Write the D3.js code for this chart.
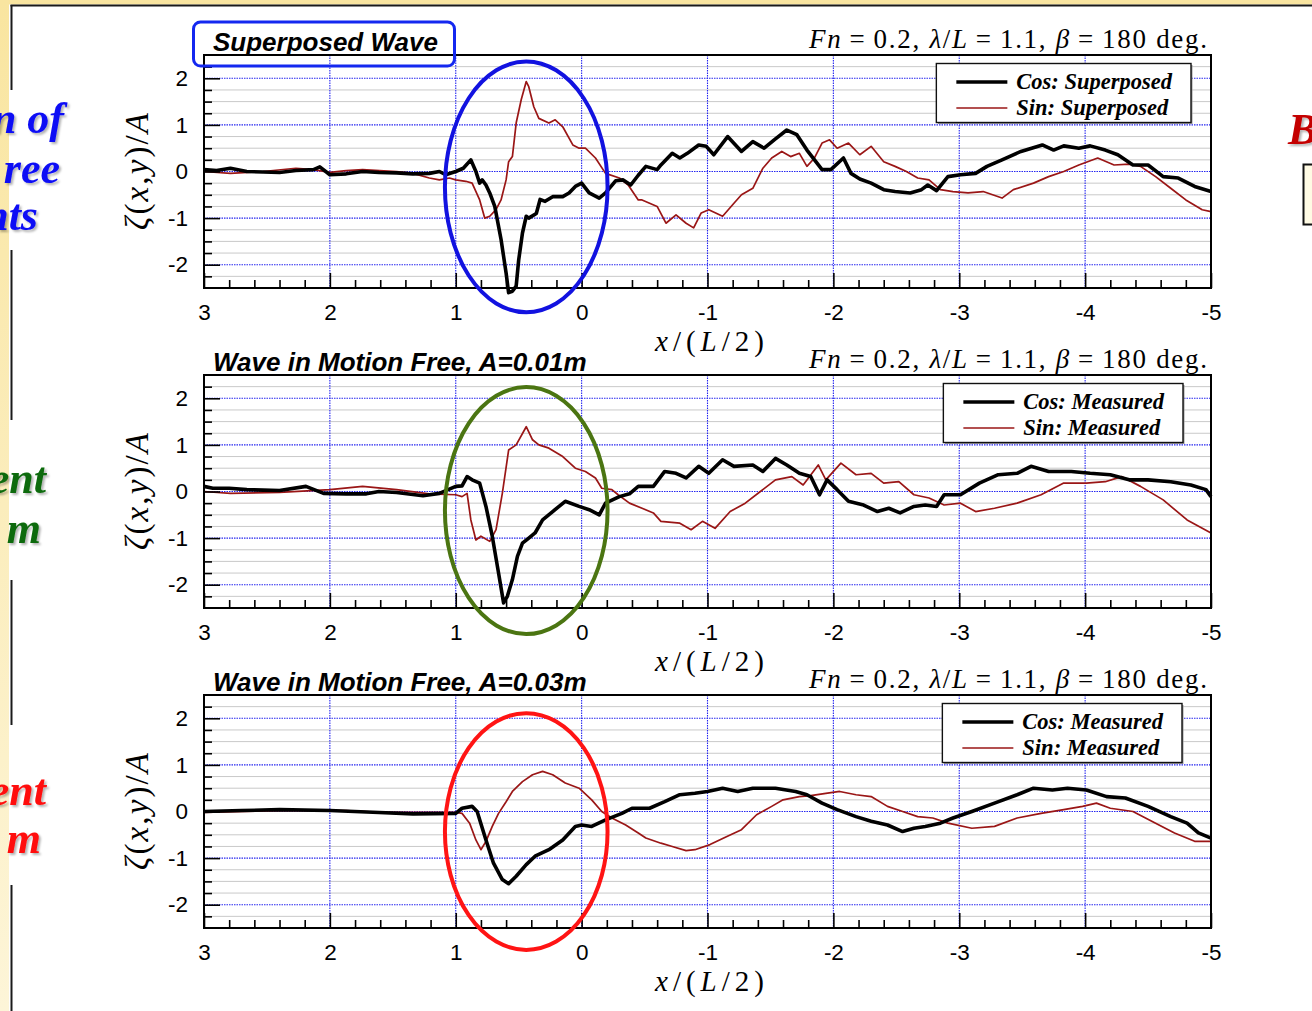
<!DOCTYPE html>
<html>
<head>
<meta charset="utf-8">
<title>Wave pattern: superposed vs. measured</title>
<script src="https://cdn.jsdelivr.net/npm/d3@7/dist/d3.min.js"></script>
<style>
  html, body { margin: 0; padding: 0; background: #ffffff; }
  svg { display: block; }
</style>
</head>
<body>
<svg id="fig" width="1312" height="1011"></svg>
<script>
// ---------------------------------------------------------------------
// Data: wave elevation ζ(x,y)/A along x/(L/2), cosine and sine parts
// ---------------------------------------------------------------------
const xTickValues = [3, 2, 1, 0, -1, -2, -3, -4, -5];
const yTickValues = [-2, -1, 0, 1, 2];

const panelTitles = ["Superposed Wave", "Wave in Motion Free, A=0.01m", "Wave in Motion Free, A=0.03m"];
const cosLegend = ["Cos: Superposed", "Cos: Measured", "Cos: Measured"];
const sinLegend = ["Sin: Superposed", "Sin: Measured", "Sin: Measured"];

const superposedCos = [
  [3.00,0.04],[2.90,0.02],[2.79,0.07],[2.66,0.00],[2.53,-0.01],[2.40,-0.02],[2.27,0.02],[2.13,0.04],
  [2.08,0.10],[2.00,-0.07],[1.87,-0.05],[1.74,0.00],[1.61,-0.02],[1.47,-0.03],[1.34,-0.05],[1.21,-0.04],
  [1.13,0.00],[1.08,-0.07],[1.00,0.00],[0.94,0.07],[0.88,0.25],[0.84,0.00],[0.81,-0.25],[0.79,-0.18],
  [0.76,-0.29],[0.73,-0.46],[0.69,-0.75],[0.64,-1.46],[0.60,-2.18],[0.58,-2.60],[0.55,-2.57],[0.52,-2.46],
  [0.50,-1.90],[0.47,-1.32],[0.44,-0.96],[0.42,-1.00],[0.36,-0.90],[0.33,-0.60],[0.29,-0.64],[0.23,-0.54],
  [0.15,-0.54],[0.10,-0.46],[0.05,-0.32],[0.00,-0.25],[-0.06,-0.46],[-0.14,-0.57],[-0.19,-0.46],[-0.27,-0.20],
  [-0.33,-0.18],[-0.39,-0.29],[-0.45,-0.08],[-0.51,0.11],[-0.60,0.04],[-0.63,0.14],[-0.72,0.39],[-0.78,0.29],
  [-0.84,0.39],[-0.93,0.57],[-0.99,0.54],[-1.05,0.36],[-1.16,0.75],[-1.27,0.43],[-1.36,0.64],[-1.45,0.50],
  [-1.53,0.68],[-1.63,0.89],[-1.71,0.79],[-1.79,0.46],[-1.85,0.25],[-1.91,0.04],[-1.98,0.04],[-2.08,0.29],
  [-2.14,-0.04],[-2.21,-0.16],[-2.30,-0.25],[-2.40,-0.39],[-2.49,-0.43],[-2.61,-0.46],[-2.70,-0.39],[-2.75,-0.29],
  [-2.82,-0.41],[-2.91,-0.11],[-3.01,-0.07],[-3.13,-0.04],[-3.22,0.11],[-3.34,0.25],[-3.49,0.43],[-3.66,0.57],
  [-3.75,0.46],[-3.83,0.55],[-3.95,0.50],[-4.04,0.55],[-4.16,0.46],[-4.26,0.36],[-4.38,0.14],[-4.50,0.14],
  [-4.62,-0.11],[-4.74,-0.14],[-4.87,-0.32],[-5.00,-0.43]
];

const superposedSin = [
  [3.00,0.00],[2.79,-0.04],[2.53,0.00],[2.27,0.07],[2.13,0.04],[2.00,-0.02],[1.87,0.02],[1.74,0.04],
  [1.47,0.00],[1.34,-0.04],[1.21,-0.14],[1.13,-0.18],[1.05,-0.14],[1.00,-0.18],[0.92,-0.21],[0.87,-0.25],
  [0.81,-0.61],[0.77,-1.00],[0.73,-0.96],[0.68,-0.82],[0.64,-0.61],[0.60,-0.18],[0.58,0.21],[0.55,0.32],
  [0.52,1.04],[0.48,1.54],[0.44,1.93],[0.42,1.82],[0.38,1.39],[0.34,1.14],[0.26,1.04],[0.21,1.11],
  [0.15,0.96],[0.07,0.57],[0.02,0.50],[-0.03,0.50],[-0.11,0.29],[-0.19,-0.04],[-0.30,-0.14],[-0.37,-0.29],
  [-0.45,-0.61],[-0.48,-0.61],[-0.60,-0.75],[-0.67,-1.11],[-0.75,-0.93],[-0.83,-1.11],[-0.89,-1.21],[-0.95,-0.89],
  [-1.01,-0.82],[-1.12,-0.96],[-1.21,-0.68],[-1.27,-0.50],[-1.36,-0.36],[-1.44,0.07],[-1.51,0.29],[-1.59,0.43],
  [-1.66,0.32],[-1.73,0.39],[-1.79,0.11],[-1.85,0.29],[-1.91,0.61],[-1.97,0.68],[-2.03,0.50],[-2.12,0.61],
  [-2.21,0.36],[-2.30,0.54],[-2.40,0.21],[-2.49,0.11],[-2.58,0.00],[-2.67,-0.14],[-2.76,-0.18],[-2.85,-0.39],
  [-2.95,-0.43],[-3.07,-0.46],[-3.19,-0.43],[-3.34,-0.57],[-3.43,-0.39],[-3.59,-0.25],[-3.71,-0.11],[-3.83,0.00],
  [-3.95,0.14],[-4.10,0.29],[-4.23,0.14],[-4.35,0.16],[-4.44,0.11],[-4.56,-0.11],[-4.68,-0.36],[-4.80,-0.61],
  [-4.93,-0.82],[-5.00,-0.86]
];

const measured01Cos = [
  [3.00,0.11],[2.93,0.07],[2.80,0.07],[2.66,0.04],[2.53,0.03],[2.40,0.02],[2.19,0.11],[2.05,-0.04],
  [1.87,-0.05],[1.71,-0.05],[1.61,0.00],[1.47,-0.02],[1.26,-0.09],[1.13,-0.04],[1.00,0.11],[0.95,0.12],
  [0.91,0.32],[0.87,0.25],[0.81,0.18],[0.76,-0.32],[0.71,-0.96],[0.66,-1.75],[0.62,-2.39],[0.59,-2.25],
  [0.55,-1.89],[0.51,-1.39],[0.47,-1.11],[0.42,-1.00],[0.37,-0.89],[0.31,-0.61],[0.23,-0.43],[0.13,-0.21],
  [0.02,-0.32],[-0.06,-0.39],[-0.14,-0.50],[-0.19,-0.25],[-0.30,-0.11],[-0.38,-0.05],[-0.45,0.11],[-0.57,0.11],
  [-0.66,0.43],[-0.75,0.39],[-0.83,0.29],[-0.93,0.54],[-1.01,0.39],[-1.12,0.68],[-1.21,0.54],[-1.36,0.57],
  [-1.44,0.43],[-1.54,0.71],[-1.63,0.57],[-1.73,0.39],[-1.82,0.32],[-1.89,-0.07],[-1.95,0.25],[-2.03,0.04],
  [-2.12,-0.21],[-2.24,-0.29],[-2.35,-0.43],[-2.44,-0.36],[-2.53,-0.46],[-2.64,-0.32],[-2.73,-0.29],[-2.82,-0.32],
  [-2.88,-0.07],[-3.01,-0.07],[-3.16,0.18],[-3.31,0.36],[-3.46,0.39],[-3.57,0.54],[-3.71,0.43],[-3.89,0.43],
  [-4.04,0.39],[-4.20,0.36],[-4.35,0.25],[-4.50,0.25],[-4.68,0.21],[-4.84,0.14],[-4.96,0.04],[-5.00,-0.11]
];

const measured01Sin = [
  [3.00,0.00],[2.79,-0.04],[2.40,-0.02],[2.00,0.04],[1.74,0.11],[1.47,0.04],[1.21,-0.05],[1.00,-0.07],
  [0.95,-0.11],[0.91,-0.04],[0.88,-0.61],[0.84,-1.04],[0.80,-0.96],[0.73,-1.07],[0.68,-0.82],[0.63,-0.04],
  [0.58,0.89],[0.52,1.00],[0.44,1.39],[0.39,1.11],[0.34,1.00],[0.26,0.93],[0.15,0.75],[0.05,0.50],
  [-0.03,0.43],[-0.11,0.29],[-0.16,0.07],[-0.24,0.04],[-0.29,-0.07],[-0.38,-0.25],[-0.48,-0.36],[-0.57,-0.46],
  [-0.63,-0.64],[-0.78,-0.68],[-0.87,-0.82],[-0.96,-0.64],[-1.06,-0.79],[-1.18,-0.43],[-1.30,-0.25],[-1.42,0.00],
  [-1.54,0.25],[-1.67,0.32],[-1.76,0.14],[-1.88,0.57],[-1.94,0.25],[-2.06,0.61],[-2.18,0.36],[-2.30,0.39],
  [-2.40,0.18],[-2.52,0.21],[-2.64,-0.07],[-2.76,-0.14],[-2.88,-0.29],[-3.01,-0.25],[-3.13,-0.43],[-3.28,-0.36],
  [-3.46,-0.25],[-3.65,-0.07],[-3.83,0.18],[-4.01,0.18],[-4.16,0.21],[-4.29,0.32],[-4.44,0.11],[-4.62,-0.18],
  [-4.81,-0.61],[-5.00,-0.89]
];

const measured03Cos = [
  [3.00,0.00],[2.70,0.02],[2.40,0.04],[2.00,0.02],[1.61,-0.02],[1.34,-0.05],[1.00,-0.04],[0.95,0.07],
  [0.87,0.11],[0.83,0.00],[0.76,-0.61],[0.70,-1.11],[0.63,-1.46],[0.58,-1.55],[0.52,-1.39],[0.44,-1.14],
  [0.37,-0.96],[0.26,-0.82],[0.15,-0.61],[0.05,-0.32],[0.00,-0.29],[-0.08,-0.32],[-0.19,-0.18],[-0.32,-0.04],
  [-0.40,0.07],[-0.54,0.07],[-0.66,0.21],[-0.78,0.36],[-0.90,0.39],[-1.00,0.43],[-1.12,0.50],[-1.24,0.43],
  [-1.36,0.50],[-1.54,0.50],[-1.70,0.43],[-1.79,0.36],[-1.91,0.18],[-2.03,0.04],[-2.18,-0.11],[-2.30,-0.21],
  [-2.43,-0.29],[-2.55,-0.43],[-2.64,-0.36],[-2.73,-0.32],[-2.85,-0.25],[-2.95,-0.14],[-3.10,0.00],[-3.28,0.18],
  [-3.46,0.36],[-3.59,0.50],[-3.74,0.46],[-3.86,0.50],[-4.01,0.46],[-4.17,0.32],[-4.32,0.29],[-4.50,0.11],
  [-4.68,-0.11],[-4.81,-0.25],[-4.90,-0.46],[-5.00,-0.57]
];

const measured03Sin = [
  [3.00,-0.02],[2.40,0.02],[1.87,0.02],[1.61,-0.02],[1.00,-0.02],[0.95,-0.04],[0.89,-0.25],[0.84,-0.61],
  [0.80,-0.82],[0.76,-0.64],[0.71,-0.32],[0.66,-0.04],[0.60,0.21],[0.55,0.43],[0.47,0.64],[0.39,0.79],
  [0.31,0.86],[0.23,0.79],[0.13,0.61],[0.02,0.50],[-0.08,0.25],[-0.16,0.00],[-0.24,-0.14],[-0.35,-0.29],
  [-0.45,-0.46],[-0.51,-0.57],[-0.63,-0.68],[-0.72,-0.75],[-0.83,-0.84],[-0.90,-0.82],[-1.02,-0.71],[-1.15,-0.54],
  [-1.27,-0.39],[-1.39,-0.07],[-1.51,0.11],[-1.60,0.25],[-1.73,0.32],[-1.82,0.34],[-1.94,0.39],[-2.05,0.43],
  [-2.18,0.36],[-2.30,0.32],[-2.43,0.11],[-2.55,0.00],[-2.67,-0.11],[-2.79,-0.14],[-2.91,-0.25],[-3.10,-0.36],
  [-3.28,-0.32],[-3.46,-0.14],[-3.65,-0.04],[-3.83,0.04],[-3.98,0.11],[-4.09,0.18],[-4.20,0.07],[-4.38,0.00],
  [-4.56,-0.25],[-4.71,-0.46],[-4.87,-0.64],[-5.00,-0.64]
];

// ---------------------------------------------------------------------
// Layout and styling
// ---------------------------------------------------------------------
const panels = [
  { title: panelTitles[0], cos: superposedCos, sin: superposedSin, cosLabel: cosLegend[0], sinLabel: sinLegend[0],
    boxed: true, legendRight: 1191, ring: { color: "#1212e0", cy: -0.33, ry: 2.69 } },
  { title: panelTitles[1], cos: measured01Cos, sin: measured01Sin, cosLabel: cosLegend[1], sinLabel: sinLegend[1],
    boxed: false, legendRight: 1183, ring: { color: "#4b7512", cy: -0.41, ry: 2.65 } },
  { title: panelTitles[2], cos: measured03Cos, sin: measured03Sin, cosLabel: cosLegend[2], sinLabel: sinLegend[2],
    boxed: false, legendRight: 1182, ring: { color: "#ff1414", cy: -0.43, ry: 2.54 } }
];

const plotLeft = 204, plotRight = 1211, plotHeight = 233, firstTop = 55, panelStep = 320;
const sinColor = "#9a1616";
const serif = "'Liberation Serif', 'Times New Roman', serif";
const sans = "'Liberation Sans', Arial, sans-serif";

const svg = d3.select("#fig");
const defs = svg.append("defs");

const shadow = defs.append("filter").attr("id", "txtShadow")
  .attr("x", "-20%").attr("y", "-30%").attr("width", "150%").attr("height", "170%");
shadow.append("feDropShadow").attr("dx", 2).attr("dy", 2).attr("stdDeviation", 1.3)
  .attr("flood-color", "#000").attr("flood-opacity", 0.3);

const strip = defs.append("linearGradient").attr("id", "stripFill")
  .attr("x1", 0).attr("y1", 0).attr("x2", 0).attr("y2", 1);
strip.append("stop").attr("offset", "0%").attr("stop-color", "#f9e5a0");
strip.append("stop").attr("offset", "100%").attr("stop-color", "#fdf5d8");

// ---- slide frame ------------------------------------------------------
svg.append("rect").attr("width", 1312).attr("height", 1011).attr("fill", "#ffffff");
svg.append("rect").attr("x", 0).attr("y", 0).attr("width", 9).attr("height", 1011).attr("fill", "url(#stripFill)");
svg.append("rect").attr("x", 0).attr("y", 0).attr("width", 1312).attr("height", 4.5).attr("fill", "#f9e5a0");
svg.append("line").attr("x1", 10.5).attr("x2", 1312).attr("y1", 5.5).attr("y2", 5.5)
  .attr("stroke", "#1a1a1a").attr("stroke-width", 2);
[[5, 90], [250, 420], [580, 725], [885, 1011]].forEach(([a, b]) => {
  svg.append("line").attr("x1", 11.5).attr("x2", 11.5).attr("y1", a).attr("y2", b)
    .attr("stroke", "#1a1a1a").attr("stroke-width", 2);
});

// side captions of the slide (running past the page edge)
const sideText = svg.append("g").attr("font-family", serif).attr("font-weight", "bold")
  .attr("font-style", "italic").attr("font-size", 44).attr("text-anchor", "end")
  .attr("filter", "url(#txtShadow)");
[["n of", 64, 133, "#0a0af5"], ["ree", 60, 183, "#0a0af5"], ["nts", 38, 230, "#0a0af5"],
 ["ent", 46, 493, "#0b6a0b"], ["m", 41, 543, "#0b6a0b"],
 ["ent", 46, 805, "#ff0a0a"], ["m", 41, 853, "#ff0a0a"]].forEach(([t, xx, yy, c]) => {
  sideText.append("text").attr("x", xx).attr("y", yy).attr("fill", c).text(t);
});
svg.append("text").attr("x", 1288).attr("y", 144).attr("font-family", serif)
  .attr("font-weight", "bold").attr("font-style", "italic").attr("font-size", 44)
  .attr("fill", "#c40000").attr("filter", "url(#txtShadow)").text("B");
svg.append("rect").attr("x", 1303.5).attr("y", 164.5).attr("width", 20).attr("height", 60)
  .attr("fill", "#fffbe4").attr("stroke", "#111").attr("stroke-width", 2);

// ---- panels -------------------------------------------------------------
const x = d3.scaleLinear().domain([3, -5]).range([plotLeft, plotRight]);
const xMinor = d3.range(-24, 15).filter(k => k % 5 !== 0).map(k => +(k * 0.2).toFixed(2));
const yMinor = d3.range(-9, 10).filter(k => k % 4 !== 0).map(k => k * 0.25);

panels.forEach((p, i) => {
  const top = firstTop + i * panelStep;
  const bottom = top + plotHeight;
  const y = d3.scaleLinear().domain([-2.5, 2.5]).range([bottom, top]);
  const g = svg.append("g");

  // grid
  g.append("g").selectAll("line").data(yMinor).join("line")
    .attr("x1", plotLeft).attr("x2", plotRight)
    .attr("y1", d => y(d)).attr("y2", d => y(d))
    .attr("stroke", "#c9c9c9").attr("stroke-width", 1);
  g.append("g").selectAll("line").data(yTickValues).join("line")
    .attr("x1", plotLeft).attr("x2", plotRight)
    .attr("y1", d => y(d)).attr("y2", d => y(d))
    .attr("stroke", "#2626f0").attr("stroke-width", 1.1).attr("stroke-dasharray", "1.5,1");
  g.append("g").selectAll("line").data(xTickValues.slice(1, -1)).join("line")
    .attr("x1", d => x(d)).attr("x2", d => x(d))
    .attr("y1", top).attr("y2", bottom)
    .attr("stroke", "#2626f0").attr("stroke-width", 1.1).attr("stroke-dasharray", "1.5,1");

  // curves
  const line = d3.line().x(d => x(d[0])).y(d => y(d[1]));
  g.append("path").datum(p.sin).attr("d", line).attr("fill", "none")
    .attr("stroke", sinColor).attr("stroke-width", 1.7).attr("stroke-linejoin", "round");
  g.append("path").datum(p.cos).attr("d", line).attr("fill", "none")
    .attr("stroke", "#000").attr("stroke-width", 3.6).attr("stroke-linejoin", "round");

  // frame
  g.append("rect").attr("x", plotLeft).attr("y", top)
    .attr("width", plotRight - plotLeft).attr("height", plotHeight)
    .attr("fill", "none").attr("stroke", "#000").attr("stroke-width", 2);

  // axes (ticks point into the plot)
  const xMajor = d3.axisBottom(x).tickValues(xTickValues).tickSizeInner(-15).tickSizeOuter(0)
    .tickPadding(16).tickFormat(d => String(d));
  const xMin = d3.axisBottom(x).tickValues(xMinor).tickSizeInner(-8).tickSizeOuter(0).tickFormat("");
  const yMajor = d3.axisLeft(y).tickValues(yTickValues).tickSizeInner(-16).tickSizeOuter(0)
    .tickPadding(16).tickFormat(d => String(d));
  const yMin = d3.axisLeft(y).tickValues(yMinor).tickSizeInner(-8).tickSizeOuter(0).tickFormat("");

  [[xMin, `translate(0,${bottom})`], [xMajor, `translate(0,${bottom})`],
   [yMin, `translate(${plotLeft},0)`], [yMajor, `translate(${plotLeft},0)`]].forEach(([ax, tr]) => {
    const a = g.append("g").attr("transform", tr).call(ax);
    a.select(".domain").remove();
    a.selectAll("line").attr("stroke", "#000").attr("stroke-width", 1.6);
    a.selectAll("text").attr("font-family", sans).attr("font-size", 22.5).attr("fill", "#000");
  });

  // axis titles
  const xl = g.append("text").attr("x", (plotLeft + plotRight) / 2 + 2).attr("y", bottom + 63)
    .attr("text-anchor", "middle").attr("font-family", serif).attr("font-size", 29)
    .attr("textLength", 109).attr("lengthAdjust", "spacing");
  xl.append("tspan").attr("font-style", "italic").text("x");
  xl.append("tspan").text("/(");
  xl.append("tspan").attr("font-style", "italic").text("L");
  xl.append("tspan").text("/2)");

  const yl = g.append("text").attr("transform", `translate(148,${y(0)}) rotate(-90)`)
    .attr("text-anchor", "middle").attr("font-family", serif).attr("font-size", 33)
    .attr("textLength", 117).attr("lengthAdjust", "spacing");
  yl.append("tspan").attr("font-style", "italic").text("ζ");
  yl.append("tspan").text("(");
  yl.append("tspan").attr("font-style", "italic").text("x");
  yl.append("tspan").text(",");
  yl.append("tspan").attr("font-style", "italic").text("y");
  yl.append("tspan").text(")/");
  yl.append("tspan").attr("font-style", "italic").text("A");

  // run condition
  const cond = g.append("text").attr("x", 1207).attr("y", top - 7).attr("text-anchor", "end")
    .attr("font-family", serif).attr("font-size", 27)
    .attr("textLength", 398).attr("lengthAdjust", "spacing");
  cond.append("tspan").attr("font-style", "italic").text("Fn");
  cond.append("tspan").text("\u2009=\u20090.2, ");
  cond.append("tspan").attr("font-style", "italic").text("λ");
  cond.append("tspan").text("/");
  cond.append("tspan").attr("font-style", "italic").text("L");
  cond.append("tspan").text("\u2009=\u20091.1, ");
  cond.append("tspan").attr("font-style", "italic").text("β");
  cond.append("tspan").text("\u2009=\u2009180 deg.");

  // panel title
  g.append("text").attr("x", 213).attr("y", top - 4.5)
    .attr("font-family", sans).attr("font-weight", "bold").attr("font-style", "italic")
    .attr("font-size", 26).attr("fill", "#000").text(p.title);
  if (p.boxed) {
    g.append("rect").attr("x", 193.5).attr("y", top - 33).attr("width", 261).attr("height", 44)
      .attr("rx", 7).attr("fill", "none").attr("stroke", "#1428f0").attr("stroke-width", 3);
  }

  // legend
  const lgTop = top + 8.5, lgH = 59;
  const lg = g.append("g");
  const rows = [[p.cosLabel, "#000", 3.6, 27], [p.sinLabel, sinColor, 1.7, 53]];
  const texts = rows.map(r => lg.append("text").attr("font-family", serif).attr("font-weight", "bold")
    .attr("font-style", "italic").attr("font-size", 22.5).attr("fill", "#000").text(r[0]));
  const tw = d3.max(texts, t => t.node().getComputedTextLength());
  const boxL = p.legendRight - (20 + 51 + 9 + tw + 19);
  lg.insert("rect", ":first-child").attr("x", boxL + 1.5).attr("y", lgTop + 1.5)
    .attr("width", p.legendRight - boxL).attr("height", lgH).attr("fill", "#9a9a9a");
  lg.insert("rect", "text").attr("x", boxL).attr("y", lgTop)
    .attr("width", p.legendRight - boxL).attr("height", lgH)
    .attr("fill", "#fff").attr("stroke", "#111").attr("stroke-width", 1.4);
  rows.forEach((r, k) => {
    lg.append("line").attr("x1", boxL + 20).attr("x2", boxL + 71)
      .attr("y1", top + r[3]).attr("y2", top + r[3])
      .attr("stroke", r[1]).attr("stroke-width", r[2]);
    texts[k].attr("x", boxL + 80).attr("y", top + r[3] + 7);
  });

  // highlighted region around the bow
  const c = 0.44, rx = 0.646;
  g.append("ellipse").attr("cx", x(c)).attr("cy", y(p.ring.cy))
    .attr("rx", x(c - rx) - x(c)).attr("ry", y(0) - y(p.ring.ry))
    .attr("fill", "none").attr("stroke", p.ring.color).attr("stroke-width", 4);
});
</script>
</body>
</html>
